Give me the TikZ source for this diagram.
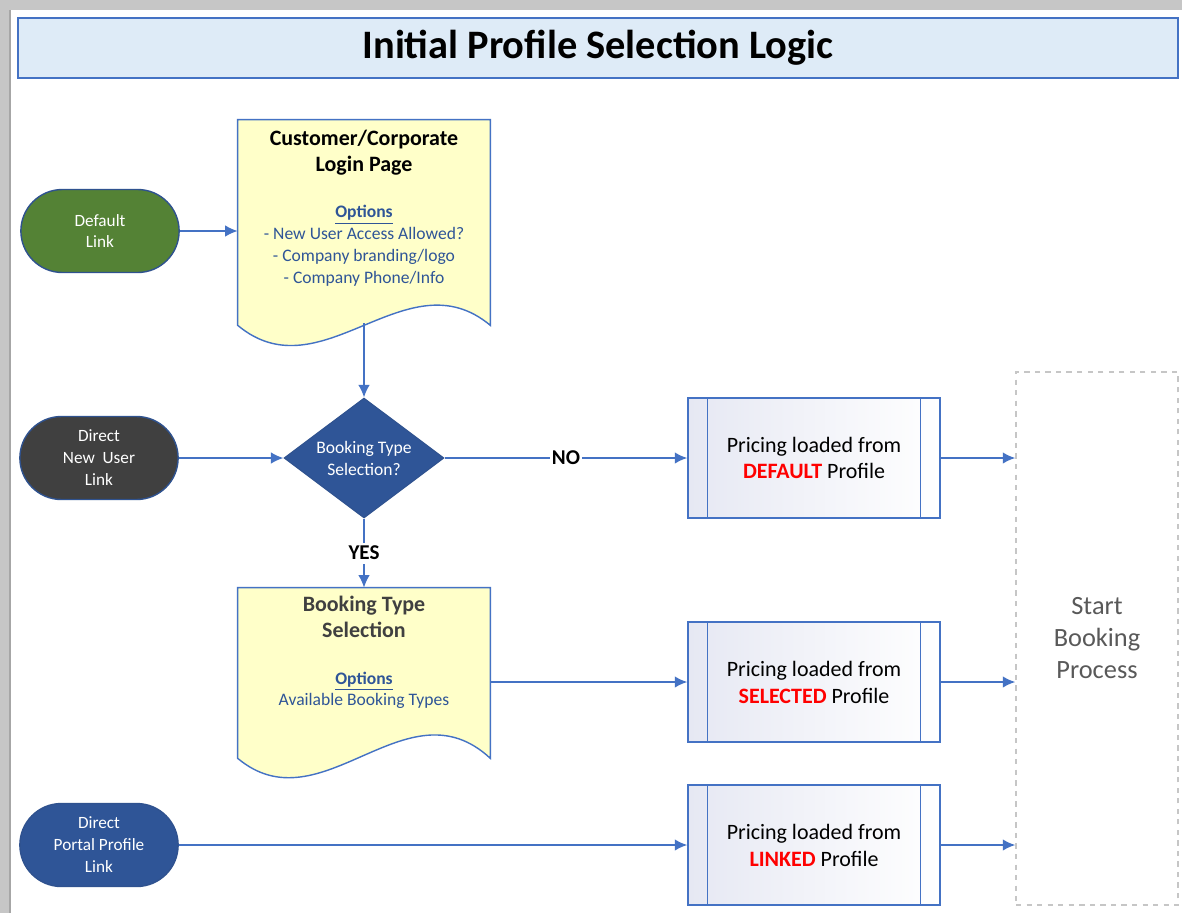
\documentclass[tikz,border=0pt]{standalone}
\usepackage{fontspec}
\setmainfont{Carlito}
\usetikzlibrary{arrows.meta,shapes.geometric,shapes.misc}
\definecolor{lnBlue}{HTML}{4472C4}
\definecolor{bdBlue}{HTML}{2F528F}
\definecolor{ttlFill}{HTML}{DEEBF7}
\definecolor{docFill}{HTML}{FFFFC9}
\definecolor{optBlue}{HTML}{2F5597}
\definecolor{grnFill}{HTML}{548235}
\definecolor{drkFill}{HTML}{404040}
\definecolor{bluFill}{HTML}{2F5597}
\definecolor{prcFill}{HTML}{E6E8F3}
\newcommand{\optHead}{\textbf{\underline{Options}}}
\newcommand{\docHd}[1][black]{\fontsize{12.5}{15.3}\selectfont\bfseries\color{#1}}

\begin{document}
\begin{tikzpicture}[x=0.02cm,y=-0.02cm,
                    linkND/.style={rounded rectangle,
                                   draw=bdBlue,
                                   line width=0.8pt,
                                   minimum width=3.4cm,
                                   minimum height=1.66cm,
                                   text=white,
                                   align=center,
                                   font=\fontsize{9.8}{12.5}\selectfont},
                    docND/.style={rectangle,
                                  minimum width=5.04cm,
                                  inner sep=0pt},
                    docLine/.style={draw=lnBlue,
                                    fill=docFill,
                                    line width=0.8pt},
                    txtND/.style={align=center,
                                  anchor=north,
                                  inner sep=0pt,
                                  text=optBlue,
                                  font=\fontsize{10}{12.4}\selectfont},
                    prcND/.style={rectangle,
                                  draw=lnBlue,
                                  line width=0.8pt,
                                  left color=prcFill,
                                  right color=white,
                                  minimum width=5.04cm,
                                  minimum height=2.4cm,
                                  align=center,
                                  font=\fontsize{12.5}{15.3}\selectfont},
                    arr/.style={-{Latex[length=2.5mm,width=2.3mm]},
                                draw=lnBlue,
                                line width=1pt}]
    % frame
    \useasboundingbox (0,0) rectangle (1182,913);
    \fill[gray!45] (0,0) rectangle (1182,913);
    \fill[white] (10,10) rectangle (1182,913);
    \draw[gray!70, line width=0.6pt] (10,10) -- (10,913);
    % title
    \node[rectangle, draw=lnBlue, fill=ttlFill, line width=0.8pt,
          minimum width=23.2cm, minimum height=1.2cm,
          font=\fontsize{23}{27}\selectfont\bfseries] (title) at (598,48)
          {Initial Profile Selection Logic};

    % entry links
    \node[linkND, fill=grnFill](default) at (100,231) {Default\\Link};
    \node[linkND, fill=drkFill](newuser) at (99,458)  {Direct\\New\ \ User\\Link};
    \node[linkND, fill=bluFill](portal)  at (99,845)  {Direct\\Portal Profile\\Link};

    % login page document
    \node[docND, minimum height=4.1cm](login) at (364,222.5) {};
    \draw[docLine] (login.north west) -- (login.north east) -- (login.south east)
        .. controls ([shift={(-84,-70)}]login.south east)
               and ([shift={(84,70)}]login.south west) .. (login.south west) -- cycle;
    \node[txtND](logintxt) at ([yshift=-0.2cm]login.north)
        {\docHd Customer/Corporate\\[2.5pt]\docHd Login Page\\[14pt]
         \optHead\\- New User Access Allowed?\\- Company branding/logo\\- Company Phone/Info};

    % decision
    \node[diamond, draw=bdBlue, fill=bluFill, line width=0.6pt, aspect=1.33,
          minimum width=3.2cm, minimum height=2.4cm, inner sep=0pt,
          text=white, align=center, font=\fontsize{10}{12.5}\selectfont]
          (decide) at (364,458) {Booking Type\\Selection?};

    % booking type document
    \node[docND, minimum height=3.4cm](booking) at (364,673) {};
    \draw[docLine] (booking.north west) -- (booking.north east) -- (booking.south east)
        .. controls ([shift={(-84,-78)}]booking.south east)
               and ([shift={(84,70)}]booking.south west) .. (booking.south west) -- cycle;
    \node[txtND](bookingtxt) at ([yshift=-0.16cm]booking.north)
        {\docHd[drkFill] Booking Type\\[2.5pt]\docHd[drkFill] Selection\\[14pt]
         \optHead\\Available Booking Types};

    % pricing
    \node[prcND](dflt) at (814,458) {Pricing loaded from\\\textcolor{red}{\textbf{DEFAULT}} Profile};
    \node[prcND](sel)  at (814,682) {Pricing loaded from\\\textcolor{red}{\textbf{SELECTED}} Profile};
    \node[prcND](lnk)  at (814,845) {Pricing loaded from\\\textcolor{red}{\textbf{LINKED}} Profile};
    \draw[lnBlue, line width=0.8pt]
        ([xshift=0.4cm]dflt.north west) -- ([xshift=0.4cm]dflt.south west)
        ([xshift=-0.4cm]dflt.north east) -- ([xshift=-0.4cm]dflt.south east)
        ([xshift=0.4cm]sel.north west) -- ([xshift=0.4cm]sel.south west)
        ([xshift=-0.4cm]sel.north east) -- ([xshift=-0.4cm]sel.south east)
        ([xshift=0.4cm]lnk.north west) -- ([xshift=0.4cm]lnk.south west)
        ([xshift=-0.4cm]lnk.north east) -- ([xshift=-0.4cm]lnk.south east);

    % start
    \node[rectangle, draw=gray!45, dashed, line width=0.8pt,
          minimum width=3.24cm, minimum height=10.66cm, align=center,
          text=black!65, font=\fontsize{15}{18.2}\selectfont]
          (start) at (1097,638.5) {Start\\Booking\\Process};

    \path
        (default.east) edge [arr] (default.east -| login.west)
        (newuser)      edge [arr] (decide)
        (portal)       edge [arr] (lnk)
        (login.south |- 0,323) edge [arr] (decide)
        (decide)       edge [arr] node [font=\fontsize{12}{14}\selectfont\bfseries, fill=white, inner sep=1pt] {NO} (dflt)
        (decide)       edge [arr] node [font=\fontsize{12}{14}\selectfont\bfseries, fill=white, inner sep=2pt] {YES} (booking)
        (booking.east |- sel) edge [arr] (sel)
        (dflt)         edge [arr] (dflt -| start.west)
        (sel)          edge [arr] (sel -| start.west)
        (lnk)          edge [arr] (lnk -| start.west)
        ;
\end{tikzpicture}
\end{document}
